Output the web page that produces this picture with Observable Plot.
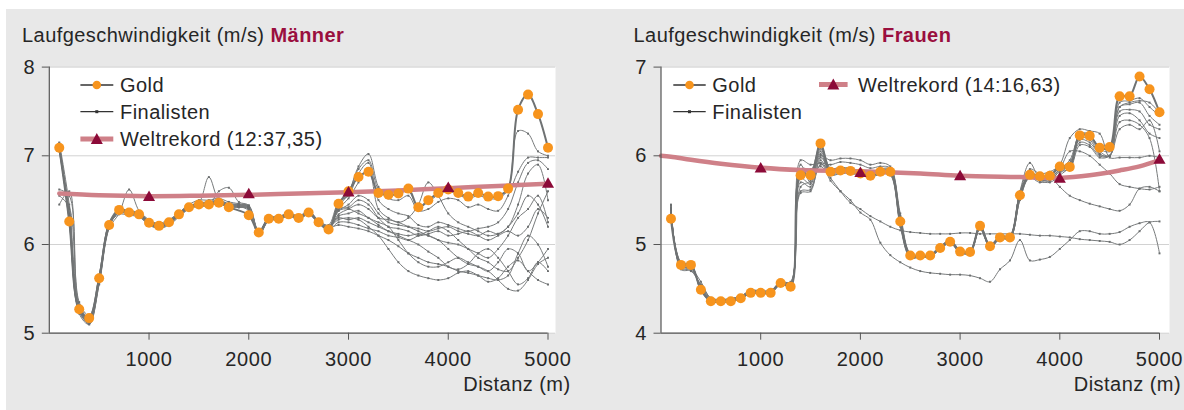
<!DOCTYPE html>
<html><head><meta charset="utf-8">
<script src="https://cdn.jsdelivr.net/npm/d3@7"></script>
<script src="https://cdn.jsdelivr.net/npm/@observablehq/plot@0.6"></script>
<style>
body{margin:0;width:1184px;height:410px;position:relative;overflow:hidden;background:#fff;font-family:"Liberation Sans",Arial,sans-serif;color:#262626}
.bg{position:absolute;left:6px;top:9px;width:1178px;height:401px;background:#e8e8e8}
.t{position:absolute;font-size:20px;line-height:20px;white-space:nowrap;letter-spacing:0.45px;color:#262626}
.t b{color:#9a0f3e}
.chart{position:absolute;top:50px}
.leg{position:absolute;left:0;top:0;overflow:visible;pointer-events:none}
</style></head><body>
<div class="bg"></div>
<div class="t" style="left:22px;top:25.4px">Laufgeschwindigkeit (m/s) <b>Männer</b></div>
<div class="t" style="left:633.5px;top:25.4px">Laufgeschwindigkeit (m/s) <b>Frauen</b></div>
<div id="men" class="chart" style="left:0;width:590px"></div>
<div id="women" class="chart" style="left:612px;width:572px"></div>
<svg class="leg" width="1184" height="410">
  <line x1="80.4" x2="113.3" y1="85" y2="85" stroke="#333" stroke-width="1.3"/>
  <circle cx="96.8" cy="85" r="4.3" fill="#f7941d"/>
  <line x1="80.4" x2="113.3" y1="111.7" y2="111.7" stroke="#333" stroke-width="1.2"/>
  <rect x="95.3" y="110.2" width="3" height="3" fill="#333"/>
  <line x1="80.4" x2="113.3" y1="139" y2="139" stroke="#cf8088" stroke-width="5"/>
  <path d="M96.8,133 L102.8,144 L90.8,144 Z" fill="#8c0a38"/>
  <line x1="673.3" x2="705.7" y1="85" y2="85" stroke="#333" stroke-width="1.3"/>
  <circle cx="689.5" cy="85" r="4.3" fill="#f7941d"/>
  <line x1="673.3" x2="705.7" y1="111.7" y2="111.7" stroke="#333" stroke-width="1.2"/>
  <rect x="688" y="110.2" width="3" height="3" fill="#333"/>
  <line x1="819" x2="847.6" y1="84.5" y2="84.5" stroke="#cf8088" stroke-width="5"/>
  <path d="M833.3,78.5 L839.3,89.5 L827.3,89.5 Z" fill="#8c0a38"/>
</svg>
<div class="t" style="left:120px;top:74.8px">Gold</div>
<div class="t" style="left:120px;top:101.5px">Finalisten</div>
<div class="t" style="left:120px;top:128.8px">Weltrekord (12:37,35)</div>
<div class="t" style="left:712.3px;top:74.8px">Gold</div>
<div class="t" style="left:712.3px;top:101.5px">Finalisten</div>
<div class="t" style="left:858px;top:74.8px">Weltrekord (14:16,63)</div>
<div class="t" style="right:613.5px;top:373.8px">Distanz (m)</div>
<div class="t" style="right:3px;top:373.8px">Distanz (m)</div>
<script>
const distances = [100,200,300,400,500,600,700,800,900,1000,1100,1200,1300,1400,1500,1600,1700,1800,1900,2000,2100,2200,2300,2400,2500,2600,2700,2800,2900,3000,3100,3200,3300,3400,3500,3600,3700,3800,3900,4000,4100,4200,4300,4400,4500,4600,4700,4800,4900,5000];
const xTicks = [1000,2000,3000,4000,5000];
const splitDist = [1000,2000,3000,4000,5000];

// Männer
const menYTicks = [5,6,7,8];
const menGold = [7.09,6.26,5.27,5.17,5.62,6.22,6.39,6.36,6.34,6.245,6.21,6.25,6.34,6.42,6.45,6.45,6.47,6.42,null,6.33,6.135,6.29,6.29,6.34,6.30,6.36,6.25,6.17,6.46,6.60,6.76,6.82,6.58,6.56,6.575,6.63,6.42,6.50,6.58,6.62,6.58,6.54,6.58,6.54,6.545,6.63,7.52,7.69,7.47,7.09];
const menWRDist = [100,500,1000,1500,2000,2500,3000,3500,4000,4500,5000];
const menWR = [6.575,6.555,6.545,6.55,6.56,6.575,6.59,6.61,6.635,6.66,6.685];
const menWRSplits = [6.53,6.56,6.58,6.63,6.68];
const menFinalists = [
 [7.12,6.30,5.25,5.14,5.60,6.24,6.38,6.37,6.33,6.26,6.22,6.26,6.35,6.43,6.46,6.47,6.48,6.44,6.43,6.38,6.12,6.30,6.30,6.35,6.31,6.37,6.26,6.20,6.45,6.58,6.85,6.95,6.62,6.55,6.57,6.60,6.42,6.48,6.56,6.60,6.56,6.52,6.55,6.52,6.52,6.62,7.28,7.25,7.05,7.00],
 [7.10,6.28,5.24,5.12,5.58,6.20,6.36,6.35,6.33,6.24,6.20,6.24,6.33,6.41,6.44,6.44,6.46,6.43,6.42,6.40,6.10,6.28,6.28,6.33,6.29,6.35,6.24,6.18,6.42,6.58,6.88,7.02,6.65,6.52,6.50,6.55,6.38,6.40,6.48,6.52,6.50,6.42,6.45,6.40,6.38,6.55,6.82,6.98,6.98,6.98],
 [7.15,6.45,5.30,5.10,5.55,6.18,6.35,6.62,6.38,6.28,6.22,6.27,6.36,6.44,6.47,6.76,6.50,6.46,6.45,6.42,6.14,6.31,6.31,6.36,6.32,6.38,6.27,6.22,6.48,6.55,6.80,6.92,6.50,6.40,6.35,6.32,6.22,6.20,6.25,6.22,6.18,6.15,6.18,6.20,6.25,6.40,6.70,6.92,6.95,6.85],
 [7.08,6.40,5.28,5.15,5.60,6.22,6.34,6.33,6.31,6.22,6.18,6.22,6.31,6.40,6.43,6.44,6.60,6.64,6.48,6.44,6.11,6.27,6.28,6.32,6.28,6.34,6.24,6.19,6.40,6.52,6.70,6.85,6.40,6.30,6.25,6.30,6.45,6.70,6.55,6.35,6.25,6.20,6.15,6.10,6.12,6.20,6.45,6.80,6.90,6.50],
 [6.62,6.55,5.32,5.18,5.65,6.25,6.40,6.38,6.36,6.27,6.24,6.28,6.36,6.45,6.50,6.50,6.52,6.48,6.46,6.43,6.13,6.29,6.30,6.35,6.30,6.37,6.25,6.17,6.38,6.45,6.55,6.50,6.35,6.25,6.22,6.20,6.18,6.15,6.18,6.20,6.15,6.12,6.10,6.15,6.12,6.20,6.35,6.55,6.45,6.20],
 [6.45,6.60,5.35,5.20,5.66,6.24,6.37,6.36,6.35,6.25,6.21,6.26,6.34,6.43,6.47,6.48,6.50,6.46,6.45,6.44,6.15,6.30,6.31,6.36,6.31,6.36,6.26,6.18,6.34,6.40,6.45,6.40,6.30,6.28,6.25,6.20,6.15,6.10,6.05,6.02,6.00,5.95,5.90,5.85,5.95,6.10,6.30,6.40,6.55,6.25],
 [7.13,6.25,5.22,5.10,5.56,6.20,6.37,6.35,6.32,6.23,6.19,6.24,6.33,6.41,6.45,6.46,6.47,6.43,6.42,6.41,6.12,6.28,6.29,6.34,6.30,6.35,6.25,6.18,6.32,6.35,6.38,6.30,6.25,6.20,6.05,5.90,5.80,5.75,5.75,5.80,5.85,5.80,5.75,5.70,5.80,5.95,5.90,5.70,5.80,5.95],
 [7.05,6.32,5.27,5.16,5.61,6.21,6.38,6.36,6.34,6.24,6.20,6.25,6.34,6.42,6.46,6.46,6.48,6.44,6.44,6.42,6.14,6.30,6.30,6.34,6.30,6.36,6.26,6.20,6.28,6.30,6.28,6.20,6.10,5.95,5.80,5.70,5.65,5.62,5.60,5.62,5.68,5.70,5.65,5.58,5.62,5.75,5.82,5.70,5.60,5.55],
 [7.11,6.27,5.26,5.13,5.59,6.21,6.37,6.36,6.34,6.25,6.21,6.25,6.33,6.42,6.45,6.46,6.47,6.44,6.43,6.41,6.12,6.28,6.29,6.33,6.29,6.35,6.24,6.17,6.25,6.25,6.22,6.18,6.15,6.10,6.08,6.05,6.10,6.15,6.20,6.15,6.05,5.95,5.85,5.80,5.72,5.70,5.85,6.05,6.35,6.60],
 [7.07,6.35,5.29,5.16,5.62,6.23,6.39,6.37,6.35,6.26,6.22,6.26,6.35,6.43,6.46,6.47,6.49,6.45,6.44,6.43,6.15,6.30,6.31,6.35,6.31,6.37,6.27,6.21,6.30,6.28,6.30,6.25,6.20,6.15,6.12,6.10,6.12,6.10,6.05,5.95,5.85,5.78,5.75,5.70,5.60,5.50,5.48,5.60,5.78,5.85],
 [7.14,6.29,5.25,5.12,5.58,6.20,6.36,6.34,6.33,6.23,6.19,6.23,6.32,6.41,6.44,6.45,6.46,6.42,6.42,6.40,6.10,6.27,6.28,6.33,6.29,6.34,6.24,6.18,6.38,6.40,6.35,6.30,6.22,6.15,6.10,6.05,6.00,5.92,5.85,5.75,5.72,5.78,5.90,5.95,5.85,5.70,5.55,5.62,5.80,5.70],
 [6.55,6.42,5.31,5.17,5.63,6.22,6.38,6.37,6.35,6.26,6.22,6.26,6.35,6.43,6.47,6.47,6.49,6.45,6.44,6.42,6.14,6.29,6.30,6.35,6.31,6.36,6.26,6.19,6.40,6.42,6.50,6.45,6.30,6.20,6.18,6.15,6.10,6.12,6.15,6.10,6.12,6.15,6.10,6.05,6.10,6.15,6.10,6.20,6.40,6.30],
 [7.09,6.33,5.28,5.15,5.61,6.22,6.38,6.36,6.34,6.25,6.21,6.25,6.34,6.42,6.45,6.46,6.47,6.43,6.43,6.42,6.13,6.29,6.30,6.34,6.30,6.36,6.26,6.19,6.22,6.20,6.18,6.15,6.10,6.05,5.98,5.90,5.85,5.80,5.78,5.75,5.70,5.68,5.65,5.62,5.60,5.65,5.90,6.10,6.00,5.75]
];

// Frauen
const womenYTicks = [4,5,6,7];
const womenGold = [5.29,4.77,4.77,4.49,4.36,4.36,4.36,4.395,4.455,4.455,4.455,4.565,4.525,5.78,5.78,6.14,5.82,5.835,5.83,5.80,5.775,5.82,5.82,5.26,4.875,4.875,4.875,4.96,5.03,4.92,4.915,5.21,4.98,5.08,5.08,5.555,5.785,5.77,5.775,5.88,5.875,6.23,6.225,6.09,6.10,6.67,6.67,6.895,6.75,6.49];
const womenWRDist = [0,100,300,600,1000,1400,2000,2600,3000,3600,4000,4300,4600,4800,5000];
const womenWR = [6.0,5.99,5.955,5.91,5.865,5.84,5.825,5.80,5.775,5.76,5.75,5.78,5.835,5.88,5.95];
const womenWRSplits = [5.85,5.80,5.765,5.735,5.95];
const womenFinalists = [
 [5.32,4.78,4.76,4.50,4.37,4.36,4.37,4.40,4.46,4.46,4.46,4.56,4.54,5.80,5.80,6.10,5.83,5.84,5.84,5.81,5.78,5.83,5.83,5.30,4.88,4.87,4.88,4.97,5.04,4.93,4.92,5.20,4.99,5.08,5.09,5.58,5.80,5.76,5.78,5.86,5.90,6.25,6.24,6.08,6.05,6.60,6.62,6.65,6.55,6.45],
 [5.40,4.75,4.74,4.52,4.38,4.37,4.38,4.41,4.47,4.47,4.47,4.57,4.56,5.85,5.75,6.05,5.80,5.83,5.82,5.79,5.77,5.81,5.80,5.22,4.86,4.86,4.87,4.95,5.02,4.91,4.90,5.18,4.97,5.07,5.07,5.52,5.82,5.75,5.76,5.85,5.95,6.22,6.20,6.05,6.00,6.55,6.58,6.60,6.45,6.35],
 [5.45,4.72,4.70,4.55,4.40,4.38,4.39,4.42,4.48,4.48,4.48,4.58,4.58,5.90,5.70,6.00,5.95,5.97,5.97,5.95,5.90,5.92,5.88,5.35,4.90,4.88,4.89,4.98,5.05,4.94,4.93,5.22,5.00,5.10,5.10,5.60,5.92,5.74,5.72,5.80,5.92,6.18,6.15,6.02,6.00,6.50,6.52,6.50,6.35,6.30],
 [5.35,4.80,4.78,4.48,4.36,4.35,4.36,4.39,4.45,4.45,4.45,4.55,4.55,5.70,5.65,5.95,5.78,5.80,5.80,5.78,5.76,5.79,5.78,5.20,4.85,4.86,4.86,4.95,5.01,4.91,4.90,5.17,4.97,5.06,5.07,5.50,5.78,5.72,5.70,5.78,5.88,6.15,6.12,6.00,6.00,6.45,6.48,6.40,6.25,6.20],
 [5.38,4.76,4.73,4.58,4.39,4.37,4.37,4.40,4.46,4.46,4.46,4.56,4.57,5.60,5.62,5.90,5.85,5.86,5.85,5.82,5.79,5.84,5.84,5.28,4.89,4.88,4.88,4.97,5.04,4.93,4.92,5.21,4.99,5.09,5.09,5.57,5.75,5.70,5.72,5.82,5.85,6.12,6.10,5.98,6.00,6.38,6.40,6.35,6.20,5.60],
 [5.30,4.79,4.75,4.51,4.37,4.36,4.36,4.40,4.45,4.46,4.46,4.55,4.54,5.75,5.68,6.08,5.81,5.82,5.82,5.80,5.77,5.82,5.81,5.24,4.87,4.87,4.87,4.96,5.03,4.92,4.91,5.19,4.98,5.08,5.08,5.53,5.80,5.73,5.75,5.84,5.88,6.20,6.18,6.02,6.00,6.30,6.35,6.30,6.40,6.05],
 [5.42,4.74,4.72,4.53,4.38,4.37,4.38,4.41,4.47,4.47,4.46,4.57,4.55,5.95,5.90,5.92,5.90,5.93,5.92,5.90,5.86,5.88,5.86,5.32,4.89,4.88,4.88,4.97,5.04,4.93,4.92,5.20,4.99,5.09,5.10,5.59,5.85,5.80,5.82,5.90,6.20,6.30,6.28,6.25,5.98,5.98,5.98,5.98,6.00,5.98],
 [5.36,4.77,4.76,4.50,4.37,4.36,4.37,4.40,4.46,4.46,4.46,4.56,4.55,5.82,5.78,5.88,5.75,5.60,5.47,5.40,5.32,5.26,5.20,5.16,5.14,5.13,5.12,5.12,5.12,5.13,5.13,5.12,5.12,5.12,5.12,5.12,5.11,5.10,5.10,5.09,5.08,5.06,5.05,5.04,5.03,5.00,5.05,5.15,5.25,5.26],
 [5.33,4.78,4.77,4.49,4.36,4.36,4.36,4.40,4.45,4.45,4.46,4.56,4.53,5.85,5.85,5.92,5.72,5.60,5.50,5.36,5.28,5.02,4.88,4.80,4.74,4.70,4.68,4.67,4.66,4.66,4.65,4.62,4.58,4.72,4.82,5.05,4.82,4.83,4.86,4.95,5.05,5.15,5.15,5.12,5.12,5.14,5.20,5.24,5.25,4.90],
 [5.39,4.76,4.74,4.52,4.38,4.37,4.38,4.41,4.47,4.47,4.47,4.57,4.56,5.58,5.60,5.98,5.84,5.85,5.84,5.81,5.79,5.83,5.82,5.27,4.88,4.87,4.87,4.96,5.03,4.92,4.92,5.20,4.98,5.08,5.08,5.56,5.78,5.75,5.76,5.65,5.55,5.50,5.46,5.43,5.40,5.38,5.45,5.63,5.65,5.60],
 [5.44,4.73,4.71,4.54,4.39,4.38,4.39,4.42,4.48,4.48,4.48,4.58,4.57,5.65,5.72,6.02,5.79,5.81,5.81,5.79,5.76,5.80,5.79,5.23,4.86,4.86,4.86,4.95,5.02,4.91,4.91,5.18,4.97,5.07,5.07,5.51,5.76,5.72,5.74,5.85,6.05,6.05,6.00,5.90,5.80,5.68,5.65,5.63,5.62,5.65],
 [5.31,4.79,4.78,4.49,4.36,4.35,4.36,4.39,4.45,4.45,4.45,4.55,4.53,5.78,5.82,6.12,5.86,5.87,5.86,5.83,5.80,5.85,5.85,5.29,4.89,4.88,4.88,4.97,5.04,4.94,4.92,5.21,4.99,5.09,5.10,5.58,5.80,5.77,5.78,5.86,5.90,6.24,6.22,6.10,6.08,6.55,6.60,6.62,6.60,6.48]
];

const font = "'Liberation Sans', Arial, sans-serif";
const fmt = d => String(d);
function chart(cfg) {
  const rows = [];
  cfg.finalists.forEach((arr, k) => arr.forEach((v, i) => { if (v != null) rows.push({runner: k, d: distances[i], v}); }));
  const gold = cfg.gold.map((v, i) => ({d: distances[i], v})).filter(p => p.v != null);
  const wr = cfg.wrDist.map((d, i) => ({d, v: cfg.wr[i]}));
  const tri = splitDist.map((d, i) => ({d, v: cfg.splits[i]}));
  const y0 = cfg.yTicks[0];
  return Plot.plot({
    width: cfg.width, height: 360,
    marginLeft: cfg.ml, marginRight: cfg.mr, marginTop: 16.6, marginBottom: 77.3,
    style: {background: "transparent", overflow: "visible", fontFamily: font, fontSize: "20px", color: "#262626", letterSpacing: "0.7px"},
    x: {domain: [0, 5000], insetRight: cfg.inset},
    y: {domain: [cfg.yTicks[0], cfg.yTicks[cfg.yTicks.length - 1]]},
    marks: [
      Plot.frame({fill: "white", stroke: "none"}),
      Plot.gridY(cfg.yTicks, {stroke: "#d2d2d2", strokeOpacity: 1}),
      Plot.line(rows, {x: "d", y: "v", z: "runner", stroke: "#777a7b", strokeWidth: 1, curve: "catmull-rom"}),
      Plot.dot(rows, {x: "d", y: "v", symbol: "square", r: 1.1, fill: "#6b6e6f"}),
      Plot.line(gold, {x: "d", y: "v", stroke: "#6f7273", strokeWidth: 2, curve: "catmull-rom"}),
      Plot.line(wr, {x: "d", y: "v", stroke: "#cf8088", strokeWidth: 4.5, curve: "catmull-rom"}),
      Plot.dot(gold, {x: "d", y: "v", r: 5, fill: "#f7941d"}),
      Plot.dot(tri, {x: "d", y: "v", symbol: "triangle", r: 4.5, fill: "#8c0a38"}),
      Plot.ruleX([0], {stroke: "#555", strokeWidth: 1.2}),
      Plot.ruleY([y0], {x1: 0, x2: 5000, stroke: "#555", strokeWidth: 1.2}),
      Plot.axisY(cfg.yTicks, {tickSize: 7, tickPadding: 7, fontSize: 20, stroke: "#555", tickFormat: fmt, label: null}),
      Plot.axisX(xTicks, {tickSize: 7, tickPadding: 12, fontSize: 20, stroke: "#555", tickFormat: fmt, label: null})
    ]
  });
}

document.getElementById("men").append(chart({
  width: 590, ml: 48.8, mr: 35, inset: 7.5,
  yTicks: menYTicks, gold: menGold, finalists: menFinalists,
  wrDist: menWRDist, wr: menWR, splits: menWRSplits
}));
document.getElementById("women").append(chart({
  width: 572, ml: 48.5, mr: 15, inset: 10,
  yTicks: womenYTicks, gold: womenGold, finalists: womenFinalists,
  wrDist: womenWRDist, wr: womenWR, splits: womenWRSplits
}));
</script>
</body></html>
